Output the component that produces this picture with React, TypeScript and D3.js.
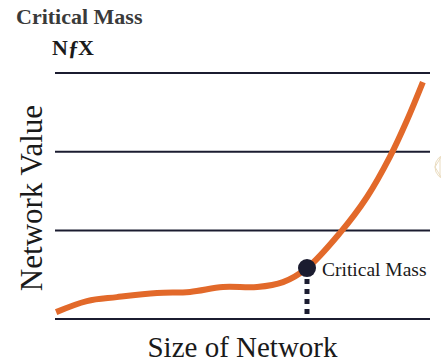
import React from 'react'
import * as d3 from 'd3'

/* svg size and plotting area */
const width = 441
const height = 362
const margin = { top: 73, right: 11, bottom: 43, left: 55 }

/* values: size of network (0..100) vs network value (0..100) */
const sizeOfNetwork = [0.3, 8.5, 16.5, 27.2, 36, 44.8, 53.9, 60.8, 67.2, 76, 83.2, 89.3, 93.9, 98.1]
const networkValue = [2.8, 7.3, 8.9, 10.6, 11, 13, 13, 15, 20.7, 35, 49.6, 65.9, 80.9, 96.3]
const gridValues = [0, 36, 68, 100]
const criticalSize = 67.2
const criticalValue = 20.7

const orange = '#e2692a'
const navy = '#1b1c30'

const x = d3.scaleLinear().domain([0, 100]).range([margin.left, width - margin.right])
const y = d3.scaleLinear().domain([0, 100]).range([height - margin.bottom, margin.top])

const points = sizeOfNetwork.map((s, i) => [s, networkValue[i]] as [number, number])
const line = d3
    .line<[number, number]>()
    .x((d) => x(d[0]))
    .y((d) => y(d[1]))
    .curve(d3.curveCatmullRom.alpha(0.5))

export default function App() {
    const cx = x(criticalSize)
    const cy = y(criticalValue)
    return (
        <svg
            width={width}
            height={height}
            style={{ position: 'absolute', left: 0, top: 0, background: '#fff' }}
        >
            {/* title + logo */}
            <text x={16} y={24} fontFamily="Liberation Serif" fontWeight="bold" fontSize={22} fill="#3a3a3a">
                Critical Mass
            </text>
            <text x={52} y={55} fontFamily="Liberation Serif" fontWeight="bold" fontSize={22} fill="#1a1a1a">
                Nƒ<tspan dx={-1}>X</tspan>
            </text>

            {/* grid lines + baseline */}
            {gridValues.map((v) => (
                <line
                    key={v}
                    x1={x(0)}
                    x2={x(100)}
                    y1={y(v)}
                    y2={y(v)}
                    stroke={navy}
                    strokeWidth={2}
                />
            ))}

            {/* faint watermark at the right edge */}
            <g stroke="#eadcc0" strokeWidth={1} fill="none">
                <circle cx={448} cy={167} r={13} />
                <line x1={440} y1={157} x2={440} y2={177} />
                <line x1={435} y1={167} x2={441} y2={157} />
                <line x1={435} y1={167} x2={441} y2={177} />
            </g>

            {/* dotted drop line from critical mass */}
            <line
                x1={cx}
                x2={cx}
                y1={cy + 9}
                y2={y(0)}
                stroke={navy}
                strokeWidth={5}
                strokeDasharray="5,5"
                strokeDashoffset={-2}
            />

            {/* network value curve */}
            <path d={line(points) || ''} fill="none" stroke={orange} strokeWidth={6} strokeLinecap="butt" />

            {/* critical mass point */}
            <circle cx={cx} cy={cy} r={9} fill={navy} />
            <text x={cx + 15} y={cy + 8} fontFamily="Liberation Serif" fontSize={19.5} fill="#1a1a1a">
                Critical Mass
            </text>

            {/* axis titles */}
            <text
                x={(x(0) + x(100)) / 2}
                y={357}
                textAnchor="middle"
                fontFamily="Liberation Serif"
                fontSize={29}
                fill="#1a1a1a"
            >
                Size of Network
            </text>
            <text
                transform={`translate(42, ${198}) rotate(-90)`}
                textAnchor="middle"
                fontFamily="Liberation Serif"
                fontSize={31}
                fill="#1a1a1a"
            >
                Network Value
            </text>
        </svg>
    )
}
